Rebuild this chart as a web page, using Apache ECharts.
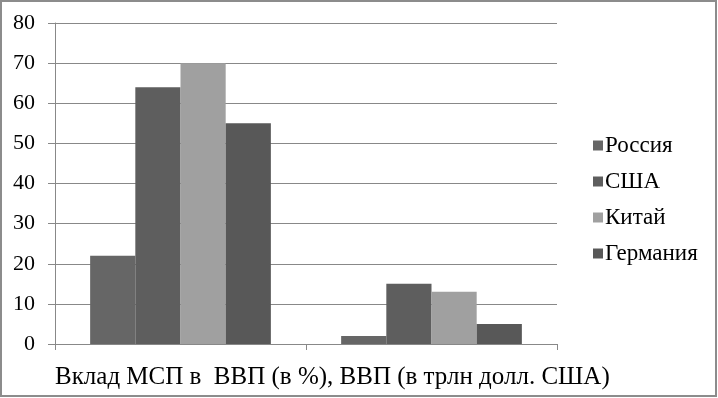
<!DOCTYPE html>
<html><head><meta charset="utf-8">
<script src="https://cdn.jsdelivr.net/npm/echarts@6/dist/echarts.min.js"></script>
<style>html,body{margin:0;padding:0;background:#fff}#c{width:718px;height:398px}</style>
</head><body><div id="c"></div>
<script>
const categories = ['Вклад МСП в  ВВП (в %),', 'ВВП (в трлн долл. США)'];
const axisTitle = 'Вклад МСП в  ВВП (в %), ВВП (в трлн долл. США)';
const seriesNames = ['Россия', 'США', 'Китай', 'Германия'];
const russia = [22, 2];
const usa = [64, 15];
const china = [70, 13];
const germany = [55, 5];
const yTicks = [0, 10, 20, 30, 40, 50, 60, 70, 80];
const colors = ['#666666', '#5e5e5e', '#a0a0a0', '#585858'];
const values = [russia, usa, china, germany];

const font = '"Liberation Serif", "Times New Roman", serif';
const chart = echarts.init(document.getElementById('c'));
chart.setOption({
  animation: false,
  backgroundColor: '#fff',
  grid: {left: 55, right: 161, top: 23, bottom: 54, containLabel: false},
  legend: {
    orient: 'vertical', left: 588, top: 129,
    itemWidth: 10, itemHeight: 10, itemGap: 13,
    icon: 'rect',
    textStyle: {fontFamily: font, fontSize: 23, color: '#000', padding: [0,0,0,-3]},
    data: seriesNames
  },
  xAxis: {
    type: 'category', data: categories,
    axisLine: {lineStyle: {color: '#888', width: 1}},
    axisTick: {show: true, length: 6, lineStyle: {color: '#888'}},
    axisLabel: {show: false}
  },
  yAxis: {
    type: 'value', min: yTicks[0], max: yTicks[yTicks.length - 1], interval: 10,
    axisLine: {show: true, lineStyle: {color: '#888'}},
    axisTick: {show: true, length: 7, lineStyle: {color: '#888'}},
    splitLine: {lineStyle: {color: '#888', width: 1}},
    axisLabel: {fontFamily: font, fontSize: 22, color: '#000', margin: 20}
  },
  graphic: [
    {type: 'rect', shape: {x: 1, y: 1, width: 715, height: 395}, style: {fill: 'none', stroke: '#8c8c8c', lineWidth: 2}, silent: true},
    {type: 'text', x: 55, y: 377, style: {text: axisTitle, fontFamily: font, fontSize: 25, fill: '#000', verticalAlign: 'middle', align: 'left'}}
  ],
  series: seriesNames.map((n, i) => ({
    name: n, type: 'bar', data: values[i],
    barGap: '0%', barCategoryGap: '28%',
    itemStyle: {color: colors[i]}
  }))
});
</script></body></html>
